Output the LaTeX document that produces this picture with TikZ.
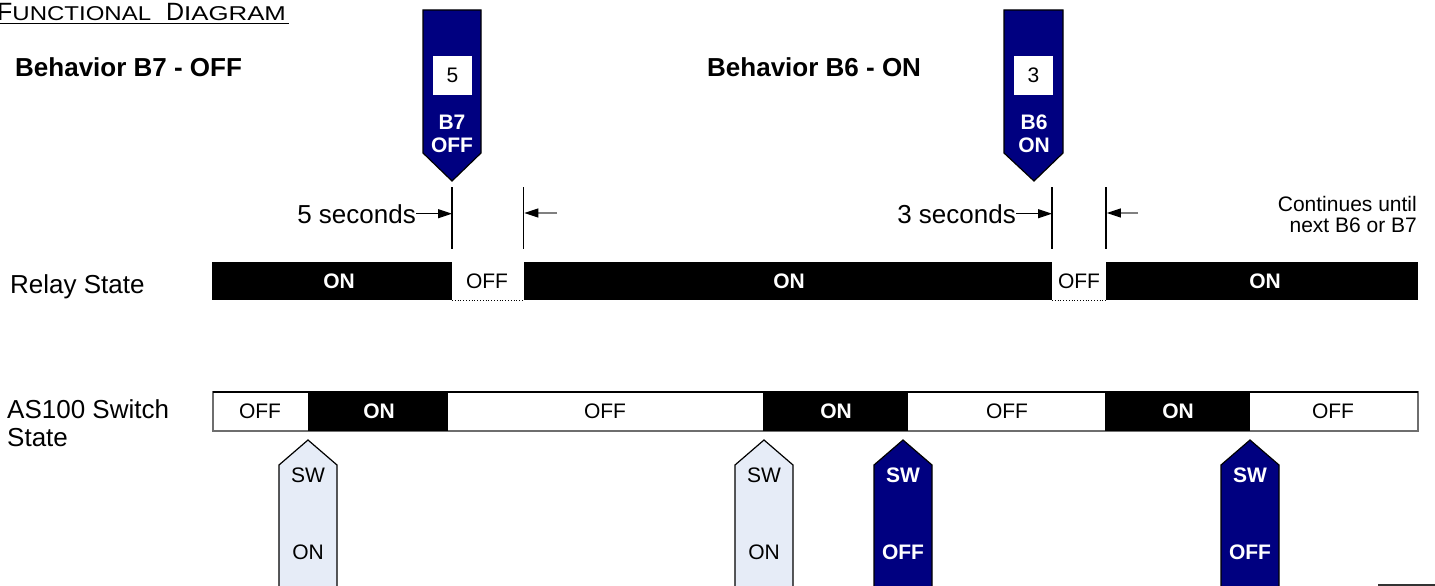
\documentclass[tikz,border=0pt]{standalone}
\usepackage{fontspec}
\setmainfont{Liberation Sans}
\usetikzlibrary{arrows.meta}
\definecolor{navy}{RGB}{0,0,128}
\definecolor{paleblue}{RGB}{230,236,247}
\definecolor{bordergray}{RGB}{110,110,110}
\newcommand\fsz[1]{\fontsize{#1}{#1}\selectfont}
\begin{document}
\begin{tikzpicture}[x=1pt,y=-1pt,
  lbl/.style={inner sep=0pt, anchor=base west, font=\fsz{26}},
  head/.style={inner sep=0pt, anchor=base west, font=\fsz{26}\bfseries},
  bt/.style={inner sep=0pt, anchor=base, font=\fsz{21}},
  btw/.style={inner sep=0pt, anchor=base, font=\fsz{21}\bfseries, text=white},
  bdr/.style={draw=black, line width=1.2pt},
  tickline/.style={black, line width=1.5pt},
  dimarrow/.style={line width=1.2pt, -{Triangle[length=14pt,width=9pt,color=black]}},
  greyarrow/.style={line width=1.2pt, draw=gray, -{Triangle[length=14pt,width=9pt,color=black]}}]
\useasboundingbox (0,0) rectangle (1435,586);

% title
\node[inner sep=0pt, anchor=base west] (title) at (-3,21)
  {\fsz{25}F\scalebox{1.2}[1]{\fsz{20}UNCTIONAL}\hspace{15pt}D\scalebox{1.29}[1]{\fsz{20}IAGRAM}};
\draw[line width=1.5pt] (0,23.5) -- (289,23.5);

% headings
\node[head] (h7) at (15,77) {Behavior B7 - OFF};
\node[head] (h6) at (707,77) {Behavior B6 - ON};

% B7 down arrow
\draw[bdr, fill=navy] (423,10) -- (481,10) -- (481,153) -- (452,181) -- (423,153) -- cycle;
\node[fill=white, minimum width=39pt, minimum height=39pt, inner sep=0pt] (b7box) at (452.5,75.5) {};
\node[bt] (b7n) at (452.5,82.5) {5};
\node[btw] (b7a) at (452,129) {B7};
\node[btw] (b7b) at (452,152) {OFF};

% B6 down arrow
\draw[bdr, fill=navy] (1004,10) -- (1063,10) -- (1063,153) -- (1034,181) -- (1004,153) -- cycle;
\node[fill=white, minimum width=39pt, minimum height=39pt, inner sep=0pt] (b6box) at (1033.5,75.5) {};
\node[bt] (b6n) at (1033.5,82.5) {3};
\node[btw] (b6a) at (1034,129) {B6};
\node[btw] (b6b) at (1034,152) {ON};

% tick lines
\coordinate (t1a) at (452,187); \coordinate (t1b) at (452,249);
\coordinate (t2a) at (523.5,187); \coordinate (t2b) at (523.5,249);
\coordinate (t3a) at (1052,187); \coordinate (t3b) at (1052,249);
\coordinate (t4a) at (1106,187); \coordinate (t4b) at (1106,249);
\draw[tickline] (t1a) -- (t1b);
\draw[tickline] (t2a) -- (t2b);
\draw[tickline] (t3a) -- (t3b);
\draw[tickline] (t4a) -- (t4b);

% dimension labels and arrows
\node[lbl, anchor=base east] (s5) at (416,223) {5 seconds};
\draw[dimarrow] (s5.east) -- (s5.east -| t1a);
\coordinate (g1) at (557,213);
\draw[greyarrow] (g1) -- ([xshift=0.8pt]g1 -| t2a);
\node[lbl, anchor=base east] (s3) at (1016,223) {3 seconds};
\draw[dimarrow] (s3.east) -- (s3.east -| t3a);
\coordinate (g2) at (1138,213);
\draw[greyarrow] (g2) -- ([xshift=0.8pt]g2 -| t4a);

\node[bt, anchor=base east] (c1) at (1417,211) {Continues until};
\node[bt, anchor=base east] (c2) at (1417,232) {next B6 or B7};

% relay state
\node[lbl] (relay) at (10,293) {Relay State};
\fill[black] (212,262) rectangle (452,300);
\fill[black] (524,262) rectangle (1052,300);
\fill[black] (1106,262) rectangle (1418,300);
\draw[dotted, line width=0.8pt] (452,300) -- (524,300);
\draw[dotted, line width=0.8pt] (1052,300) -- (1106,300);
\node[btw] (r1) at (339,288) {ON};
\node[bt]  (r2) at (487,288) {OFF};
\node[btw] (r3) at (789,288) {ON};
\node[bt]  (r4) at (1079,288) {OFF};
\node[btw] (r5) at (1265,288) {ON};

% switch state
\node[lbl] (sw1) at (7,418) {AS100 Switch};
\node[lbl] (sw2) at (7,446) {State};
\draw[draw=bordergray, line width=1.2pt, fill=white] (213,392) rectangle (1418,431);
\fill[black] (308,392) rectangle (448,431);
\fill[black] (763,392) rectangle (908,431);
\fill[black] (1105,392) rectangle (1250,431);
\draw[line width=1.2pt] (213,392) -- (1418,392);
\node[bt]  (a1) at (260,418) {OFF};
\node[btw] (a2) at (379,418) {ON};
\node[bt]  (a3) at (605,418) {OFF};
\node[btw] (a4) at (836,418) {ON};
\node[bt]  (a5) at (1007,418) {OFF};
\node[btw] (a6) at (1178,418) {ON};
\node[bt]  (a7) at (1333,418) {OFF};

% up arrows
\filldraw[bdr, fill=paleblue] (279,592) -- (279,465) -- (308,440) -- (337,465) -- (337,592);
\node[bt] (u1a) at (308,482) {SW};
\node[bt] (u1b) at (308,559) {ON};
\filldraw[bdr, fill=paleblue] (735,592) -- (735,465) -- (764,440) -- (793,465) -- (793,592);
\node[bt] (u2a) at (764,482) {SW};
\node[bt] (u2b) at (764,559) {ON};
\filldraw[bdr, fill=navy] (874,592) -- (874,465) -- (903,440) -- (932,465) -- (932,592);
\node[btw] (u3a) at (903,482) {SW};
\node[btw] (u3b) at (903,559) {OFF};
\filldraw[bdr, fill=navy] (1221,592) -- (1221,465) -- (1250,440) -- (1279,465) -- (1279,592);
\node[btw] (u4a) at (1250,482) {SW};
\node[btw] (u4b) at (1250,559) {OFF};

% partial shape at bottom right
\draw[line width=2.5pt, draw=black!80] (1378,585.5) -- (1436,585.5);
\end{tikzpicture}
\end{document}
